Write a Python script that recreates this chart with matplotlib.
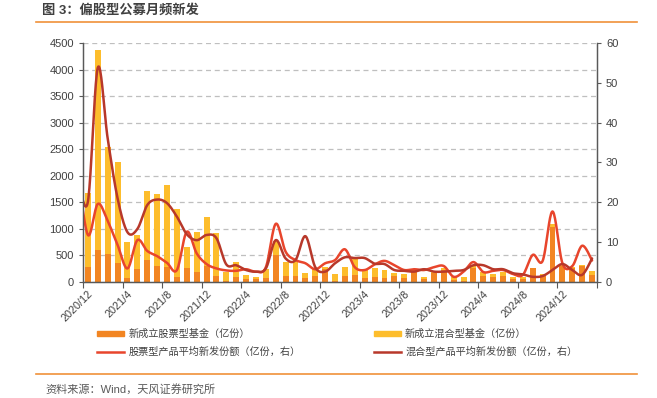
import numpy as np
import matplotlib
matplotlib.use('Agg')
import matplotlib.pyplot as plt
from matplotlib.patches import Patch
from matplotlib.lines import Line2D

plt.rcParams['font.family'] = ['Liberation Sans', 'Noto Sans CJK SC', 'DejaVu Sans']

# months 2020/12 .. 2025/3
months = ['2020/12'] + ['%d/%d' % (y, m) for y in (2021, 2022, 2023, 2024) for m in range(1, 13)] + ['2025/1', '2025/2', '2025/3']

# 新成立股票型基金（亿份）
stock_fund = [290, 600, 520, 350, 70, 240, 415, 300, 285, 100, 265, 195, 305, 115,
              20, 100, 55, 50, 80, 500, 115, 115, 75, 115, 250, 20, 115, 130,
              80, 100, 80, 110, 70, 235, 50, 165, 225, 40, 20, 255, 120, 100,
              115, 65, 55, 255, 135, 1040, 300, 270, 300, 130]
# 新成立混合型基金（亿份）
mixed_fund = [1390, 3770, 2030, 1900, 680, 645, 1295, 1360, 1545, 1280, 395, 745, 920, 800,
              160, 275, 70, 45, 160, 280, 270, 300, 95, 145, 25, 125, 165, 300,
              145, 165, 145, 65, 80, 15, 40, 25, 40, 50, 70, 70, 70, 55,
              65, 25, 45, 10, 15, 50, 40, 5, 20, 80]

# 平均新发份额（亿份，右）; first value is the month before 2020/12 (cut by the axis)
stock_avg = [27.0, 11.8, 19.6, 15.3, 9.3, 3.4, 10.5, 7.8, 6.5, 4.8, 3.0, 12.6, 7.2, 4.5,
             3.4, 2.9, 2.8, 3.2, 2.6, 3.7, 14.6, 7.6, 5.5, 4.7, 3.2, 4.7, 5.5, 8.2,
             3.7, 3.0, 4.4, 5.3, 4.2, 3.0, 3.2, 3.0, 3.7, 4.0, 1.3, 2.6, 5.0, 2.5,
             2.8, 3.0, 2.0, 1.8, 6.8, 5.3, 17.7, 4.7, 4.0, 9.1, 5.4]
mixed_avg = [26.0, 20.2, 53.8, 36.0, 21.0, 12.5, 13.3, 19.3, 20.7, 19.8, 16.4, 12.0, 10.5, 11.8,
             11.0, 4.4, 4.2, 3.0, 2.6, 3.4, 10.5, 5.9, 5.5, 11.5, 3.7, 2.6, 4.7, 6.2,
             6.0, 6.0, 4.6, 4.5, 3.0, 2.8, 2.6, 3.2, 2.6, 2.6, 2.8, 3.0, 4.2, 4.2,
             3.2, 3.2, 2.2, 1.9, 1.3, 1.5, 3.0, 4.5, 3.0, 1.8, 5.9]

c_stock = '#F28522'
c_mixed = '#FDBD2C'
c_line1 = '#E8452C'
c_line2 = '#B8382A'
grey = '#404040'


def smooth(xs, ys, steps=20):
    # catmull-rom, like excel's smoothed line
    p = np.column_stack([xs, ys]).astype(float)
    p = np.vstack([p[0], p, p[-1]])
    out = []
    t = np.linspace(0, 1, steps, endpoint=False)[:, None]
    for i in range(1, len(p) - 2):
        p0, p1, p2, p3 = p[i - 1], p[i], p[i + 1], p[i + 2]
        out.append(0.5 * (2 * p1 + (-p0 + p2) * t + (2 * p0 - 5 * p1 + 4 * p2 - p3) * t ** 2
                          + (-p0 + 3 * p1 - 3 * p2 + p3) * t ** 3))
    out.append(p[-2][None, :])
    out = np.vstack(out)
    return out[:, 0], out[:, 1]


fig = plt.figure(figsize=(6.57, 3.98), dpi=100)
ax = fig.add_axes([0.1263, 0.2915, 0.7824, 0.6005])
ax2 = ax.twinx()

x = np.arange(len(months))
ax.bar(x, stock_fund, width=0.6, color=c_stock, zorder=2)
ax.bar(x, mixed_fund, width=0.6, bottom=stock_fund, color=c_mixed, zorder=2)

xl = np.arange(-1, len(months))
sx, sy = smooth(xl, stock_avg)
ax2.plot(sx, sy, color=c_line1, lw=1.8, solid_capstyle='round')
mx, my = smooth(xl, mixed_avg)
ax2.plot(mx, my, color=c_line2, lw=1.8, solid_capstyle='round')

ax.set_xlim(-0.5, len(months) - 0.5)
ax.set_ylim(0, 4500)
ax.set_yticks(range(0, 4501, 500))
ax2.set_ylim(0, 60)
ax2.set_yticks(range(0, 61, 10))
ax.grid(axis='y', linestyle=(0, (4, 3)), color='#BFBFBF', lw=0.9, zorder=0)
ax.set_axisbelow(True)

ax.set_xticks(np.arange(-0.5, len(months), 4))
ax.set_xticklabels([])
ax.set_xticks(x[::4], minor=True)
ax.set_xticklabels(months[::4], minor=True, rotation=45, ha='right',
                   rotation_mode='anchor', fontsize=7.8, color=grey)
ax.tick_params(axis='x', which='major', length=4, color='#595959')
ax.tick_params(axis='x', which='minor', length=0, pad=5)
ax.tick_params(axis='y', length=3, color='#595959', labelsize=8, labelcolor=grey)
ax2.tick_params(axis='y', length=3, color='#595959', labelsize=8, labelcolor=grey)

for a in (ax, ax2):
    a.spines['top'].set_visible(False)
    for s in ('left', 'right', 'bottom'):
        a.spines[s].set_color('#595959')
        a.spines[s].set_linewidth(0.9)

handles = [Patch(color=c_stock), Line2D([], [], color=c_line1, lw=1.8),
           Patch(color=c_mixed), Line2D([], [], color=c_line2, lw=1.8)]
labels = ['新成立股票型基金（亿份）', '股票型产品平均新发份额（亿份，右）',
          '新成立混合型基金（亿份）', '混合型产品平均新发份额（亿份，右）']
fig.legend(handles, labels, ncol=2, loc='upper left', bbox_to_anchor=(92 / 657, 1 - 324 / 398),
           frameon=False, fontsize=7.3, handlelength=2.7, handleheight=0.45,
           handletextpad=0.4, columnspacing=7.2, labelspacing=0.75, borderpad=0,
           labelcolor=grey)

fig.text(42 / 657, 1 - 4 / 398, '图 3：偏股型公募月频新发', fontsize=9.5, color=grey,
         fontweight='bold', va='top', ha='left')
fig.add_artist(Line2D([36 / 657, 0.97], [1 - 22 / 398] * 2, color='#F0913A', lw=1.2))
fig.add_artist(Line2D([36 / 657, 0.97], [1 - 374 / 398] * 2, color='#F0913A', lw=1.2))
fig.text(45 / 657, 1 - 389 / 398, '资料来源：Wind，天风证券研究所', fontsize=8, color='#595959',
         va='center', ha='left')

fig.savefig('out.png', dpi=100)
